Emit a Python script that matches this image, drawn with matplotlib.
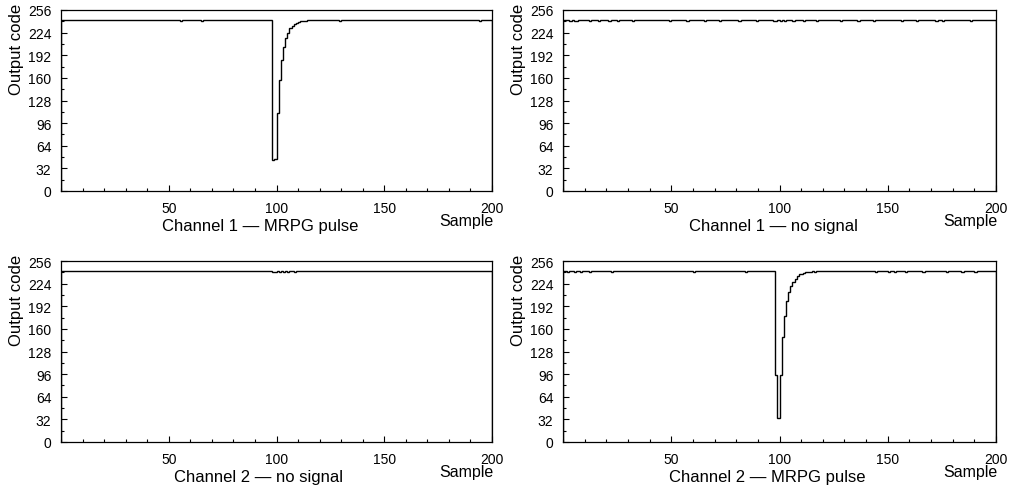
import numpy as np
import matplotlib
matplotlib.use("Agg")
import matplotlib.pyplot as plt
from matplotlib.ticker import MultipleLocator, FixedLocator

plt.rcParams["font.family"] = ["Liberation Sans", "DejaVu Sans"]

# --- data ---
n_samples = 200
baseline = 242
glitch_level = 241

titles = ["Channel 1 \u2014 MRPG pulse", "Channel 1 \u2014 no signal",
          "Channel 2 \u2014 no signal", "Channel 2 \u2014 MRPG pulse"]

# samples where the flat line dips by one code
ch1_pulse_glitches = [55, 65, 129, 194]
ch1_nosig_glitches = [3, 5, 6, 12, 16, 21, 25, 32, 49, 57, 65, 72, 81, 89,
                      97, 98, 100, 102, 106, 111, 117, 128, 136, 143, 156,
                      163, 172, 175, 188]
ch2_nosig_glitches = [98, 99, 101, 103, 105, 108]
ch2_pulse_glitches = [2, 5, 8, 12, 22, 60, 84, 116, 144, 150, 153, 158, 166,
                      177, 184, 190]

# pulse shapes, starting at sample 98
pulse_start = 98
ch1_pulse_values = [44, 45, 110, 157, 185, 203, 216, 224, 230, 234, 236, 237,
                    239, 240, 240, 241]
ch2_pulse_values = [95, 34, 95, 149, 178, 199, 212, 221, 227, 231, 235, 237,
                    238, 239, 240, 240, 241]

glitches = [ch1_pulse_glitches, ch1_nosig_glitches, ch2_nosig_glitches, ch2_pulse_glitches]
pulses = [ch1_pulse_values, None, None, ch2_pulse_values]

# axes boxes in pixels (left, top, right, bottom) of a 1009x489 canvas
W, H = 1009, 489
boxes = [(61, 11, 492, 192), (563, 11, 996, 192),
         (61, 262, 492, 443), (563, 262, 996, 443)]
title_x = [0.462, 0.485, 0.458, 0.472]

fig = plt.figure(figsize=(W / 100, H / 100), dpi=100)

for i in range(4):
    l, t, r, b = boxes[i]
    ax = fig.add_axes([l / W, 1 - b / H, (r - l) / W, (b - t) / H])

    values = np.full(n_samples, baseline, dtype=float)
    values[glitches[i]] = glitch_level
    if pulses[i] is not None:
        values[pulse_start:pulse_start + len(pulses[i])] = pulses[i]
    edges = np.arange(n_samples + 1)
    ax.stairs(values, edges, color="black", linewidth=1.0)

    ax.set_xlim(0, 200)
    ax.set_ylim(0, 256)
    ax.xaxis.set_major_locator(FixedLocator([50, 100, 150, 200]))
    ax.xaxis.set_minor_locator(MultipleLocator(10))
    ax.yaxis.set_major_locator(MultipleLocator(32))
    ax.yaxis.set_minor_locator(MultipleLocator(16))
    ax.tick_params(which="both", direction="in", width=0.8, labelsize=10)
    ax.tick_params(which="major", length=4)
    ax.tick_params(which="minor", length=2)
    ax.tick_params(axis="x", pad=7)
    ax.tick_params(axis="y", pad=7)
    for s in ax.spines.values():
        s.set_linewidth(0.9)

    ax.annotate("Output code", xy=(0, 1), xycoords="axes fraction",
                xytext=(-32, 5), textcoords="offset points",
                rotation=90, ha="center", va="top", fontsize=12)
    ax.annotate("Sample", xy=(1, 0), xycoords="axes fraction",
                xytext=(1, -16), textcoords="offset points",
                ha="right", va="top", fontsize=11.5)
    ax.annotate(titles[i], xy=(title_x[i], 0), xycoords="axes fraction",
                xytext=(0, -25), textcoords="offset points",
                ha="center", va="center", fontsize=12)

fig.savefig("out.png", dpi=100)
